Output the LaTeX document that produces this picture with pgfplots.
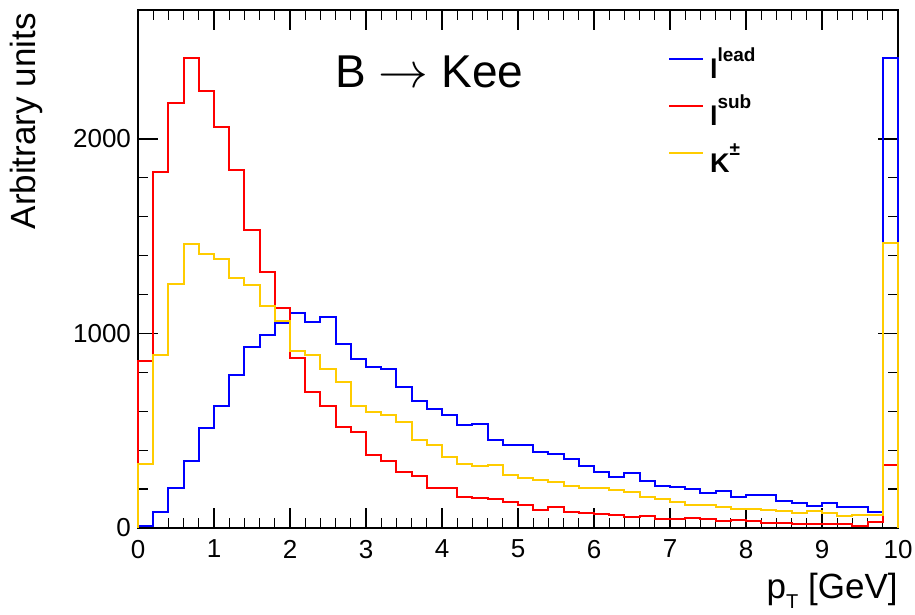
\documentclass[border=0pt]{standalone}
\usepackage{fontspec}
\setmainfont{Liberation Sans}
\usepackage{pgfplots}
\usepackage{pgfplotstable}
\pgfplotsset{compat=1.18}
\definecolor{rootblue}{RGB}{0,0,255}
\definecolor{rootred}{RGB}{255,0,0}
\definecolor{rootyellow}{RGB}{255,204,0}
\newcommand{\sups}[1]{\raisebox{8.5pt}{\fontsize{9.5}{10}\selectfont\bfseries #1}}

% pT histogram, 50 bins of 0.2 GeV (value given at left bin edge)
\pgfplotstableread{
x    lead  sub   K
0.0  0     0     0
0.0  10    857   330
0.2  84    1831  890
0.4  205   2184  1256
0.6  342   2418  1459
0.8  514   2244  1411
1.0  625   2060  1381
1.2  784   1840  1287
1.4  929   1533  1247
1.6  990   1318  1141
1.8  1055  1132  1063
2.0  1103  875   909
2.2  1060  700   887
2.4  1084  625   818
2.6  948   519   751
2.8  870   493   625
3.0  826   373   596
3.2  816   345   580
3.4  725   287   545
3.6  655   266   452
3.8  613   208   428
4.0  579   208   364
4.2  527   158   330
4.4  536   156   321
4.6  454   151   326
4.8  429   134   275
5.0  426   120   259
5.2  393   94    249
5.4  381   107   239
5.6  354   82    218
5.8  320   79    208
6.0  289   71    206
6.2  264   65    196
6.4  283   55    186
6.6  244   62    161
6.8  216   45    149
7.0  210   45    132
7.2  199   50    118
7.4  179   45    117
7.6  191   36    110
7.8  158   41    99
8.0  170   34    98
8.2  168   26    94
8.4  139   26    89
8.6  127   22    79
8.8  115   21    87
9.0  129   22    77
9.2  110   21    62
9.4  108   12    67
9.6  81    31    68
9.8  2418  324   1467
10.0 2418  324   1467
10.0 0     0     0
}\histdata

\begin{document}
\begin{tikzpicture}
\useasboundingbox (-69pt,-43.5pt) rectangle (388.5pt,264pt);
\begin{axis}[
  name=ax, at={(0,0)}, anchor=south west,
  scale only axis, width=380pt, height=259pt,
  xmin=0, xmax=10, ymin=0, ymax=2663,
  xtick={0,1,...,10}, ytick={0,1000,2000},
  minor x tick num=4, minor y tick num=4,
  tick align=inside,
  major tick length=10pt, minor tick length=5pt,
  axis line style={line width=1.3pt},
  tick style={black, line width=0.6pt},
  tick label style={font=\fontsize{13}{15}\selectfont},
  /pgf/number format/assume math mode=true,
  /pgf/number format/1000 sep={},
  scaled y ticks=false,
  xticklabel style={yshift=-2.5pt},
  clip=false,
  legend style={at={(0.6974,0.93)}, anchor=north west, draw=none, fill=none,
    inner sep=0pt, outer sep=0pt, row sep=4.5pt, column sep=3pt,
    font=\fontsize{13.5}{15}\selectfont\bfseries,
    nodes={inner sep=0pt, text height=16pt, text depth=3pt},
    cells={anchor=west}},
  legend image code/.code={\draw[#1] (0pt,3pt) -- (17pt,3pt);},
]
\addplot[rootblue, line width=1pt, const plot mark left] table[x=x, y=lead] {\histdata};
\addlegendentry{l\sups{lead}}
\addplot[rootred, line width=1pt, const plot mark left] table[x=x, y=sub] {\histdata};
\addlegendentry{l\sups{sub}}
\addplot[rootyellow, line width=1pt, const plot mark left] table[x=x, y=K] {\histdata};
\addlegendentry{K\sups{±}}
\end{axis}
\node[anchor=base west, inner sep=0pt, font=\fontsize{23}{27}\selectfont] at ([xshift=98.5pt, yshift=-39pt]ax.north west) {B $\rightarrow$ Kee};
\node[anchor=base east, inner sep=0pt, font=\fontsize{17.5}{20}\selectfont] at ([yshift=-35pt]ax.south east) {p\raisebox{-5pt}{\fontsize{10}{10}\selectfont T} [GeV]};
\node[anchor=base east, rotate=90, inner sep=0pt, font=\fontsize{17.5}{20}\selectfont] at ([xshift=-51pt, yshift=-1.5pt]ax.north west) {Arbitrary units};
\end{tikzpicture}
\end{document}
